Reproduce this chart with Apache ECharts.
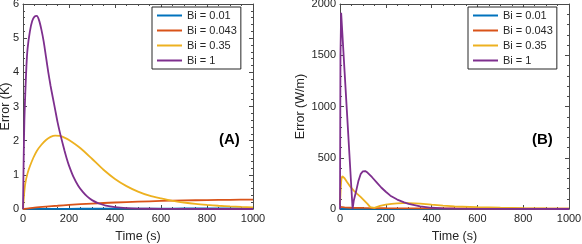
<!DOCTYPE html>
<html>
<head>
<meta charset="utf-8">
<script src="https://cdn.jsdelivr.net/npm/echarts@6/dist/echarts.min.js"></script>
<style>html,body{margin:0;padding:0;background:#fff;}#c{width:582px;height:244px;}</style>
</head>
<body>
<div id="c"></div>
<script>
// ---------- Data ----------
const seriesNames = ['Bi = 0.01', 'Bi = 0.043', 'Bi = 0.35', 'Bi = 1'];
const xTicks = [0, 200, 400, 600, 800, 1000];
const yTicksA = [0, 1, 2, 3, 4, 5, 6];
const yTicksB = [0, 500, 1000, 1500, 2000];

// Panel A: Error (K)
const tA_bi001 = [0, 100, 200, 300, 400, 500, 600, 700, 800, 900, 1000];
const eA_bi001 = [0, 0.003, 0.006, 0.008, 0.010, 0.012, 0.013, 0.014, 0.015, 0.016, 0.017];
const tA_bi0043 = [0, 50, 100, 150, 200, 300, 400, 500, 600, 700, 800, 900, 1000];
const eA_bi0043 = [0, 0.04, 0.07, 0.095, 0.12, 0.16, 0.19, 0.215, 0.235, 0.25, 0.262, 0.27, 0.277];
const tA_bi035 = [0, 5, 10, 20, 30, 45, 60, 80, 100, 120, 140, 160, 180, 200, 250, 300, 350, 400, 450, 500, 550, 600, 650, 700, 750, 800, 850, 900, 950, 1000];
const eA_bi035 = [0, 0.45, 0.75, 1.05, 1.25, 1.5, 1.7, 1.88, 2.02, 2.11, 2.15, 2.14, 2.09, 2.02, 1.78, 1.47, 1.15, 0.88, 0.67, 0.51, 0.39, 0.31, 0.24, 0.19, 0.15, 0.12, 0.095, 0.075, 0.06, 0.05];
const tA_bi1 = [0, 3, 6, 10, 15, 20, 30, 40, 50, 60, 70, 80, 90, 100, 110, 120, 130, 140, 150, 160, 170, 180, 190, 200, 220, 240, 260, 280, 300, 330, 360, 400, 450, 500, 600, 700, 1000];
const eA_bi1 = [0, 1.5, 2.6, 3.4, 4.2, 4.7, 5.2, 5.5, 5.63, 5.65, 5.52, 5.25, 4.9, 4.45, 4.0, 3.6, 3.25, 2.9, 2.55, 2.25, 1.98, 1.72, 1.48, 1.27, 0.93, 0.68, 0.5, 0.36, 0.26, 0.16, 0.1, 0.055, 0.025, 0.012, 0.004, 0.001, 0];

// Panel B: Error (W/m)
const tB_bi001 = [0, 100, 200, 400, 600, 800, 1000];
const eB_bi001 = [1, 1, 1, 1, 1, 1, 1];
const tB_bi0043 = [0, 20, 50, 100, 200, 400, 600, 800, 1000];
const eB_bi0043 = [20, 15, 12, 10, 8, 6, 5, 4, 3];
const tB_bi035 = [0, 3, 6, 10, 15, 20, 30, 45, 60, 75, 90, 105, 120, 132, 140, 150, 175, 200, 225, 250, 275, 300, 350, 400, 450, 500, 600, 700, 800, 900, 1000];
const eB_bi035 = [40, 200, 290, 320, 315, 300, 265, 218, 180, 148, 118, 85, 50, 18, 0, 12, 30, 42, 50, 55, 57, 57, 52, 42, 33, 26, 18, 12, 8, 5, 3];
const tB_bi1 = [0, 2, 5, 10, 20, 30, 40, 50, 55, 60, 70, 80, 90, 100, 105, 110, 120, 140, 160, 180, 200, 220, 250, 280, 300, 350, 400, 450, 500, 600, 1000];
const eB_bi1 = [0, 1500, 1915, 1725, 1340, 960, 575, 190, 0, 80, 170, 270, 340, 368, 372, 370, 355, 310, 260, 210, 168, 130, 92, 65, 50, 25, 12, 6, 3, 1, 0];

const colors = ['#0072BD', '#D95319', '#EDB120', '#7E2F8E'];

function pairs(t, v) { return t.map((x, i) => [x, v[i]]); }

const font = "'Liberation Sans', Arial, Helvetica, sans-serif";
const ink = '#262626';
const frame = '#4a4a4a';

function xMajor(grid, top, show) {
  return {
    type: 'value', gridIndex: grid, min: 0, max: 1000, interval: 200,
    position: top ? 'top' : 'bottom',
    name: show ? 'Time (s)' : '', nameLocation: 'middle', nameGap: 21, nameMoveOverlap: false,
    nameTextStyle: { fontFamily: font, fontSize: 12.5, color: ink },
    axisLine: { show: true, onZero: false, lineStyle: { color: frame, width: 1 } },
    axisTick: { show: true, inside: true, length: 4, lineStyle: { color: frame } },
    axisLabel: { show: show, fontFamily: font, fontSize: 11, color: ink, margin: 4,
      formatter: v => xTicks.includes(v) ? String(v) : '' },
    splitLine: { show: false }
  };
}
function xMinor(grid, top) {
  return {
    type: 'value', gridIndex: grid, min: 0, max: 1000, interval: 50,
    position: top ? 'top' : 'bottom',
    axisLine: { show: false, onZero: false },
    axisTick: { show: true, inside: true, length: 2, lineStyle: { color: frame } },
    axisLabel: { show: false }, splitLine: { show: false }
  };
}
function yMajor(grid, right, show, max, interval, name, gap, ticks) {
  return {
    type: 'value', gridIndex: grid, min: 0, max: max, interval: interval,
    position: right ? 'right' : 'left',
    name: show ? name : '', nameLocation: 'middle', nameGap: gap, nameRotate: 90, nameMoveOverlap: false,
    nameTextStyle: { fontFamily: font, fontSize: 12.5, color: ink },
    axisLine: { show: true, onZero: false, lineStyle: { color: frame, width: 1 } },
    axisTick: { show: true, inside: true, length: 4, lineStyle: { color: frame } },
    axisLabel: { show: show, fontFamily: font, fontSize: 11, color: ink, margin: 4,
      formatter: v => ticks.includes(v) ? String(v) : '' },
    splitLine: { show: false }
  };
}
function yMinor(grid, right, max, interval) {
  return {
    type: 'value', gridIndex: grid, min: 0, max: max, interval: interval,
    position: right ? 'right' : 'left',
    axisLine: { show: false, onZero: false },
    axisTick: { show: true, inside: true, length: 2, lineStyle: { color: frame } },
    axisLabel: { show: false }, splitLine: { show: false }
  };
}

const dataA = [pairs(tA_bi001, eA_bi001), pairs(tA_bi0043, eA_bi0043), pairs(tA_bi035, eA_bi035), pairs(tA_bi1, eA_bi1)];
const dataB = [pairs(tB_bi001, eB_bi001), pairs(tB_bi0043, eB_bi0043), pairs(tB_bi035, eB_bi035), pairs(tB_bi1, eB_bi1)];

const series = [];
seriesNames.forEach((n, i) => {
  series.push({ name: n, type: 'line', xAxisIndex: 0, yAxisIndex: 0, data: dataA[i], symbol: 'none',
    smooth: 0.25, lineStyle: { color: colors[i], width: 1.8 }, itemStyle: { color: colors[i] }, animation: false });
});
seriesNames.forEach((n, i) => {
  series.push({ name: n, type: 'line', xAxisIndex: 4, yAxisIndex: 4, data: dataB[i], symbol: 'none',
    smooth: false, lineStyle: { color: colors[i], width: 1.8 }, itemStyle: { color: colors[i] }, animation: false });
});

function legend(left) {
  return {
    data: seriesNames, orient: 'vertical', left: left, top: 7,
    icon: 'rect', itemWidth: 25, itemHeight: 2, itemGap: 0,
    padding: [1, 4, 1, 5], borderColor: ink, borderWidth: 1, backgroundColor: '#fff',
    textStyle: { fontFamily: font, fontSize: 11, color: ink, lineHeight: 15 }
  };
}

const chart = echarts.init(document.getElementById('c'), null, { renderer: 'canvas' });
chart.setOption({
  animation: false,
  backgroundColor: '#fff',
  grid: [
    { left: 23, top: 4, width: 230, height: 205, containLabel: false, outerBoundsMode: 'none' },
    { left: 340, top: 4, width: 229, height: 205, containLabel: false, outerBoundsMode: 'none' }
  ],
  xAxis: [
    xMajor(0, false, true), xMajor(0, true, false), xMinor(0, false), xMinor(0, true),
    xMajor(1, false, true), xMajor(1, true, false), xMinor(1, false), xMinor(1, true)
  ],
  yAxis: [
    yMajor(0, false, true, 6, 1, 'Error (K)', 11, yTicksA), yMajor(0, true, false, 6, 1, '', 10, yTicksA),
    yMinor(0, false, 6, 0.2), yMinor(0, true, 6, 0.2),
    yMajor(1, false, true, 2000, 500, 'Error (W/m)', 33, yTicksB), yMajor(1, true, false, 2000, 500, '', 10, yTicksB),
    yMinor(1, false, 2000, 100), yMinor(1, true, 2000, 100)
  ],
  legend: [legend(152), legend(468)],
  series: series,
  graphic: [
    { type: 'text', left: 219, top: 132, style: { text: '(A)', font: "bold 15px " + font, fill: '#000' } },
    { type: 'text', left: 532, top: 132, style: { text: '(B)', font: "bold 15px " + font, fill: '#000' } }
  ]
});
</script>
</body>
</html>
